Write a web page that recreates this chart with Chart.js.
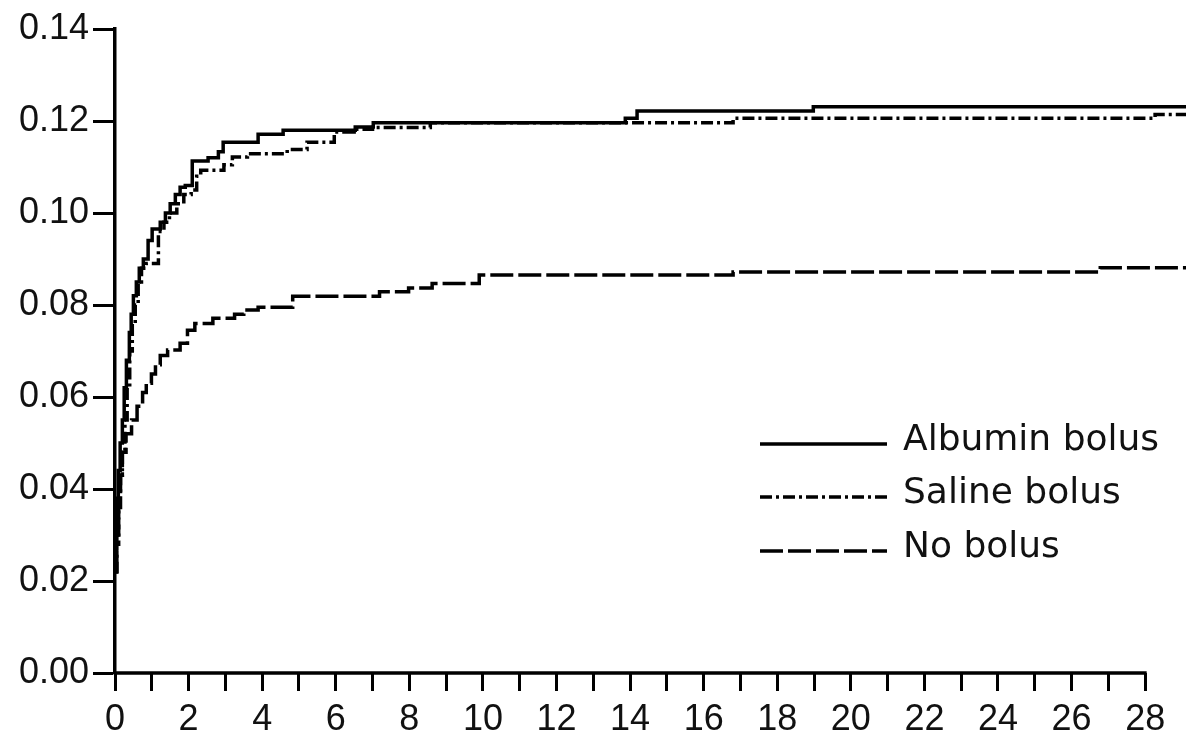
<!DOCTYPE html>
<html>
<head>
<title>Bolus cumulative incidence</title>
<script src="https://cdn.jsdelivr.net/npm/chart.js"></script>
<style>
  body {
  margin: 0;
  padding: 0;
  background-color: #fff;
}
canvas {
  display: block;
}
</style>
</head>
<body>
<canvas id="chart" width="1186" height="736"></canvas>

<script>
// axis ticks
const xTicks = [0, 1, 2, 3, 4, 5, 6, 7, 8, 9, 10, 11, 12, 13, 14, 15, 16, 17, 18, 19, 20, 21, 22, 23, 24, 25, 26, 27, 28];
const yTicks = [0, 0.02, 0.04, 0.06, 0.08, 0.10, 0.12, 0.14];
const xMax = 29.11;

const seriesLabels = ['Albumin bolus', 'Saline bolus', 'No bolus'];

// step points: time (x) where the curve jumps, value after the jump
const albuminT = [0, 0.035, 0.06, 0.09, 0.14, 0.2, 0.25, 0.31, 0.39, 0.44, 0.5, 0.58, 0.66, 0.77, 0.9, 1.01, 1.23, 1.37, 1.5, 1.64, 1.77, 1.91, 2.1, 2.53, 2.81, 2.94, 3.89, 4.57, 6.53, 7.02, 13.87, 14.19, 18.98, 29.11];
const albuminV = [0.022, 0.03, 0.038, 0.044, 0.05, 0.055, 0.062, 0.068, 0.074, 0.078, 0.082, 0.085, 0.088, 0.09, 0.094, 0.0965, 0.098, 0.1, 0.102, 0.104, 0.1056, 0.106, 0.1113, 0.112, 0.1133, 0.1154, 0.1171, 0.118, 0.1187, 0.1196, 0.1206, 0.1222, 0.1231, 0.1231];

const salineT = [0, 0.05, 0.1, 0.15, 0.2, 0.27, 0.33, 0.4, 0.47, 0.55, 0.63, 0.72, 0.85, 1.18, 1.33, 1.48, 1.68, 1.87, 2.07, 2.22, 2.33, 2.96, 3.19, 3.6, 4.68, 5.22, 5.96, 6.5, 7.0, 8.57, 16.8, 28.27, 29.11];
const salineV = [0.022, 0.028, 0.036, 0.043, 0.048, 0.055, 0.062, 0.07, 0.076, 0.08, 0.085, 0.088, 0.089, 0.096, 0.098, 0.1, 0.102, 0.104, 0.105, 0.108, 0.1093, 0.1105, 0.1122, 0.1129, 0.1138, 0.1154, 0.1176, 0.1182, 0.1186, 0.1196, 0.1206, 0.1214, 0.1214];

const noBolusT = [0, 0.05, 0.1, 0.15, 0.2, 0.3, 0.45, 0.6, 0.75, 0.85, 0.99, 1.1, 1.23, 1.43, 1.77, 1.97, 2.17, 2.66, 3.25, 3.5, 3.89, 4.83, 7.19, 7.98, 8.62, 9.9, 16.8, 26.78, 29.11];
const noBolusV = [0.022, 0.03, 0.038, 0.043, 0.048, 0.052, 0.055, 0.058, 0.061, 0.063, 0.065, 0.067, 0.069, 0.0702, 0.0717, 0.0745, 0.076, 0.0771, 0.078, 0.0789, 0.0795, 0.0819, 0.0829, 0.0837, 0.0847, 0.0865, 0.0872, 0.0881, 0.0881];

function toPoints(ts, vs) {
  return ts.map((t, i) => ({ x: t, y: vs[i] }));
}

const tickFont = { family: 'Liberation Sans', size: 36 };

// x axis line only runs from 0 to 28, plus the legend inside the plot
const extras = {
  id: 'extras',
  afterDraw(chart) {
    const ctx = chart.ctx;
    const x = chart.scales.x;
    const y0 = chart.chartArea.bottom;
    ctx.save();
    ctx.strokeStyle = '#000';
    ctx.lineWidth = 3.5;
    ctx.beginPath();
    ctx.moveTo(x.getPixelForValue(0) - 1.5, y0);
    ctx.lineTo(x.getPixelForValue(28) + 1.5, y0);
    ctx.stroke();

    const rows = [444, 497, 551];
    const x1 = chart.chartArea.right - 426;
    const x2 = chart.chartArea.right - 299;
    ctx.font = '36px "DejaVu Sans"';
    ctx.textBaseline = 'middle';
    ctx.fillStyle = '#111';
    chart.data.datasets.forEach((ds, i) => {
      ctx.setLineDash(ds.borderDash || []);
      ctx.lineWidth = ds.borderWidth;
      ctx.beginPath();
      ctx.moveTo(x1, rows[i]);
      ctx.lineTo(x2, rows[i]);
      ctx.stroke();
      ctx.setLineDash([]);
      ctx.fillText(ds.label, x2 + 16, rows[i] - 3);
    });
    ctx.restore();
  }
};

new Chart(document.getElementById('chart'), {
  type: 'line',
  data: {
    datasets: [{
      label: seriesLabels[0],
      data: toPoints(albuminT, albuminV),
      borderColor: '#000',
      borderWidth: 3.5,
      borderDash: [],
      stepped: true,
      pointRadius: 0
    }, {
      label: seriesLabels[1],
      data: toPoints(salineT, salineV),
      borderColor: '#000',
      borderWidth: 3.5,
      borderDash: [12, 4, 3, 4],
      stepped: true,
      pointRadius: 0
    }, {
      label: seriesLabels[2],
      data: toPoints(noBolusT, noBolusV),
      borderColor: '#000',
      borderWidth: 3.5,
      borderDash: [23, 5],
      stepped: true,
      pointRadius: 0
    }]
  },
  options: {
    responsive: false,
    animation: false,
    devicePixelRatio: 1,
    layout: { padding: { top: 29, right: 0, bottom: 0, left: 0 } },
    plugins: {
      legend: { display: false },
      tooltip: { enabled: false }
    },
    scales: {
      x: {
        type: 'linear',
        min: 0,
        max: xMax,
        border: { display: false },
        grid: { drawOnChartArea: false, tickLength: 18, tickWidth: 3, tickColor: '#000' },
        ticks: {
          autoSkip: false,
          maxRotation: 0,
          padding: 7,
          color: '#111',
          font: tickFont,
          callback: (v) => (v % 2 === 0 ? String(v) : '')
        },
        afterBuildTicks: (scale) => { scale.ticks = xTicks.map(v => ({ value: v })); },
        afterFit: (scale) => { scale.height = 63; }
      },
      y: {
        min: 0,
        max: 0.14,
        border: { display: true, color: '#000', width: 3.5 },
        grid: { drawOnChartArea: false, tickLength: 22, tickWidth: 3, tickColor: '#000' },
        ticks: {
          padding: 4,
          color: '#111',
          font: tickFont,
          callback: (v) => v.toFixed(2)
        },
        afterBuildTicks: (scale) => { scale.ticks = yTicks.map(v => ({ value: v })); },
        afterFit: (scale) => { scale.width = 115; }
      }
    }
  },
  plugins: [extras]
});
</script>
</body>
</html>
